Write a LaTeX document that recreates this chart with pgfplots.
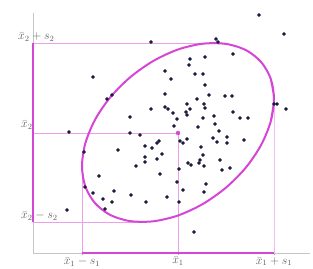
\documentclass[border=0pt]{standalone}
\usepackage{pgfplots}
\pgfplotsset{compat=1.18}
\definecolor{mag}{RGB}{214,70,214}
\definecolor{thinmag}{RGB}{236,160,236}
\definecolor{dots}{RGB}{28,28,62}
\definecolor{lab}{RGB}{95,95,95}
\begin{document}
\begin{tikzpicture}
\begin{axis}[
  at={(0,0)}, anchor=south west,
  x=1pt, y=1pt,
  xmin=33, xmax=310, ymin=15, ymax=255,
  axis lines=left,
  axis line style={-, draw=gray!45, line width=0.5pt},
  xtick={82,178,274},
  xticklabels={$\bar{x}_1-s_1$,$\bar{x}_1$,$\bar{x}_1+s_1$},
  ytick=\empty,
  tick align=outside,
  major tick length=2pt,
  tick style={gray!70},
  xticklabel style={text=lab, font=\fontsize{12}{14}\selectfont, inner sep=1pt, yshift=-1pt},
  clip=false,
]
% thin guide lines
\addplot[thinmag, line width=0.6pt] coordinates {(33,225) (216,225)};
\addplot[thinmag, line width=0.6pt] coordinates {(33,135) (178,135)};
\addplot[thinmag, line width=0.6pt] coordinates {(33,46) (140,46)};
\addplot[thinmag, line width=0.6pt] coordinates {(82,15) (82,102)};
\addplot[thinmag, line width=0.6pt] coordinates {(178,15) (178,135)};
\addplot[thinmag!70, line width=0.6pt] coordinates {(274,15) (274,169)};
% thick segments on the axes
\addplot[mag, line width=2.8pt] coordinates {(33,46) (33,225)};
\addplot[mag, line width=2.8pt] coordinates {(82,15) (274,15)};
% ellipse
\addplot[mag, line width=2pt, smooth] coordinates {
(270.7,146.4) (274.0,169.0) (270.7,189.4) (261.1,206.0) (245.9,217.9) (226.0,224.1)
(202.8,224.3) (178.0,218.5) (153.2,207.0) (130.0,190.6) (110.1,170.5) (94.9,148.0)
(85.3,124.6) (82.0,102.0) (85.3,81.6) (94.9,65.0) (110.1,53.1) (130.0,46.9)
(153.2,46.7) (178.0,52.5) (202.8,64.0) (226.0,80.4) (245.9,100.5) (261.1,123.0)
(270.7,146.4) (274.0,169.0) (270.7,189.4)};
% data points
\addplot[only marks, mark=*, mark size=1.6pt, dots] coordinates {
(93,191) (107,169) (112,173) (130,151) (69,136) (130,135) (140,133) (84,116)
(118,118) (136,102) (145,122) (99,92) (85,81) (93,75) (114,77) (131,73)
(103,69) (112,66) (105,59) (67,58) (146,66) (145,111) (145,106)
(151,226) (216,229) (218,226) (190,209) (205,211) (189,203) (165,197) (195,194)
(203,194) (171,189) (205,183) (165,174) (197,169) (209,173) (225,172) (232,172)
(151,159) (165,161) (168,159) (187,164) (190,159) (204,164) (205,160) (186,156)
(173,155) (187,153) (177,149) (203,150) (214,152) (215,144) (198,141) (174,142)
(219,137) (180,127) (183,125) (187,129) (213,130) (217,126) (227,131) (227,125)
(152,120) (157,125) (159,127) (201,121) (157,109) (162,114) (203,113) (200,108)
(199,105) (188,105) (191,103) (204,102) (220,108) (222,98) (179,99) (160,94)
(177,86) (206,84) (183,78) (204,76) (167,71) (179,66) (194,36)
(259,253) (284,234) (233,214) (274,164) (277,164) (286,159) (233,156) (240,150)
(248,150) (244,128) (230,100)};
% centre
\addplot[only marks, mark=*, mark size=2pt, mag] coordinates {(178,135)};
% y labels
\node[anchor=base west, inner sep=0pt, text=lab, font=\fontsize{12}{14}\selectfont] at (axis cs:18,228.5) {$\bar{x}_2+s_2$};
\node[anchor=base west, inner sep=0pt, text=lab, font=\fontsize{12}{14}\selectfont] at (axis cs:21,140) {$\bar{x}_2$};
\node[anchor=base west, inner sep=0pt, text=lab, font=\fontsize{12}{14}\selectfont] at (axis cs:21,49.5) {$\bar{x}_2-s_2$};
\end{axis}
\pgfresetboundingbox
\useasboundingbox (-33pt,-15pt) rectangle (280pt,253pt);
\end{tikzpicture}
\end{document}
